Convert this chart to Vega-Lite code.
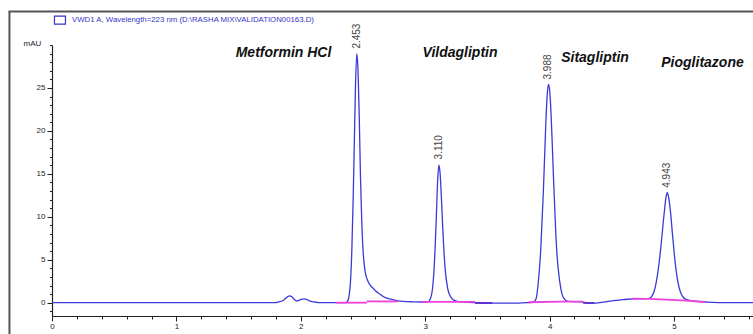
{
  "$schema": "https://vega.github.io/schema/vega-lite/v6.json",
  "width": 701,
  "height": 271,
  "autosize": "none",
  "padding": {"left": 52, "top": 45, "right": 0, "bottom": 18},
  "background": "white",
  "config": {"view": {"stroke": null}, "font": "Liberation Sans"},
  "datasets": {
    "trace": [
      {"t": 0, "v": 0}, {"t": 0.5, "v": 0}, {"t": 1.0, "v": 0}, {"t": 1.5, "v": 0}, {"t": 1.8, "v": 0},
      {"t": 1.82, "v": 0.1}, {"t": 1.85, "v": 0.2}, {"t": 1.87, "v": 0.4}, {"t": 1.89, "v": 0.65}, {"t": 1.91, "v": 0.8},
      {"t": 1.93, "v": 0.65}, {"t": 1.95, "v": 0.35}, {"t": 1.97, "v": 0.22}, {"t": 1.99, "v": 0.3}, {"t": 2.01, "v": 0.42},
      {"t": 2.03, "v": 0.45}, {"t": 2.05, "v": 0.35}, {"t": 2.07, "v": 0.22}, {"t": 2.09, "v": 0.12}, {"t": 2.12, "v": 0.05},
      {"t": 2.15, "v": 0}, {"t": 2.25, "v": 0}, {"t": 2.36, "v": 0},
      {"t": 2.38, "v": 0.3}, {"t": 2.39, "v": 1.0}, {"t": 2.40, "v": 2.6}, {"t": 2.41, "v": 6.0}, {"t": 2.42, "v": 11.5},
      {"t": 2.43, "v": 18.5}, {"t": 2.44, "v": 25.5}, {"t": 2.45, "v": 29.0}, {"t": 2.46, "v": 27.0}, {"t": 2.47, "v": 21.5},
      {"t": 2.48, "v": 14.5}, {"t": 2.49, "v": 9.5}, {"t": 2.50, "v": 6.2}, {"t": 2.51, "v": 4.4}, {"t": 2.52, "v": 3.4},
      {"t": 2.54, "v": 2.5}, {"t": 2.56, "v": 2.0}, {"t": 2.58, "v": 1.7}, {"t": 2.60, "v": 1.4}, {"t": 2.62, "v": 1.15},
      {"t": 2.64, "v": 0.95}, {"t": 2.66, "v": 0.75}, {"t": 2.68, "v": 0.6}, {"t": 2.70, "v": 0.5}, {"t": 2.74, "v": 0.35},
      {"t": 2.78, "v": 0.22}, {"t": 2.82, "v": 0.15}, {"t": 2.86, "v": 0.12}, {"t": 2.90, "v": 0.1}, {"t": 2.96, "v": 0.08},
      {"t": 3.00, "v": 0.06}, {"t": 3.02, "v": 0.1},
      {"t": 3.04, "v": 0.4}, {"t": 3.06, "v": 1.8}, {"t": 3.07, "v": 3.6}, {"t": 3.08, "v": 6.5}, {"t": 3.09, "v": 10.2},
      {"t": 3.10, "v": 14.2}, {"t": 3.11, "v": 16.0}, {"t": 3.12, "v": 15.0}, {"t": 3.13, "v": 12.3}, {"t": 3.14, "v": 9.0},
      {"t": 3.15, "v": 6.2}, {"t": 3.16, "v": 4.0}, {"t": 3.18, "v": 1.7}, {"t": 3.20, "v": 0.8}, {"t": 3.23, "v": 0.3},
      {"t": 3.27, "v": 0.12}, {"t": 3.32, "v": 0.08}, {"t": 3.40, "v": 0}, {"t": 3.45, "v": -0.05}, {"t": 3.55, "v": -0.05},
      {"t": 3.65, "v": -0.05}, {"t": 3.75, "v": -0.05}, {"t": 3.82, "v": 0}, {"t": 3.86, "v": 0.05},
      {"t": 3.87, "v": 0.08}, {"t": 3.89, "v": 0.4}, {"t": 3.91, "v": 2.5}, {"t": 3.93, "v": 6.5}, {"t": 3.95, "v": 13.0},
      {"t": 3.97, "v": 21.0}, {"t": 3.98, "v": 24.0}, {"t": 3.99, "v": 25.4}, {"t": 4.00, "v": 24.8}, {"t": 4.01, "v": 22.5},
      {"t": 4.02, "v": 19.0}, {"t": 4.03, "v": 15.0}, {"t": 4.04, "v": 11.5}, {"t": 4.05, "v": 8.0}, {"t": 4.06, "v": 5.5},
      {"t": 4.08, "v": 2.6}, {"t": 4.10, "v": 1.0}, {"t": 4.12, "v": 0.4}, {"t": 4.15, "v": 0.15}, {"t": 4.20, "v": 0.12},
      {"t": 4.26, "v": 0.1}, {"t": 4.30, "v": -0.02}, {"t": 4.36, "v": -0.05}, {"t": 4.40, "v": 0}, {"t": 4.45, "v": 0.1},
      {"t": 4.50, "v": 0.22}, {"t": 4.56, "v": 0.3}, {"t": 4.62, "v": 0.4}, {"t": 4.68, "v": 0.45}, {"t": 4.74, "v": 0.45},
      {"t": 4.78, "v": 0.48}, {"t": 4.80, "v": 0.5}, {"t": 4.82, "v": 0.7}, {"t": 4.84, "v": 1.3}, {"t": 4.86, "v": 2.6},
      {"t": 4.88, "v": 4.6}, {"t": 4.90, "v": 7.3}, {"t": 4.92, "v": 10.3}, {"t": 4.935, "v": 12.2}, {"t": 4.945, "v": 12.8},
      {"t": 4.955, "v": 12.4}, {"t": 4.97, "v": 10.8}, {"t": 4.99, "v": 7.6}, {"t": 5.01, "v": 4.6}, {"t": 5.03, "v": 2.5},
      {"t": 5.05, "v": 1.3}, {"t": 5.07, "v": 0.7}, {"t": 5.10, "v": 0.35}, {"t": 5.15, "v": 0.2}, {"t": 5.20, "v": 0.12},
      {"t": 5.25, "v": 0.08}, {"t": 5.30, "v": 0.04}, {"t": 5.37, "v": 0}, {"t": 5.50, "v": 0}, {"t": 5.64, "v": 0}
    ],
    "baselines": [
      {"seg": "A1", "kind": "pink", "t": 2.28, "v": 0.0}, {"seg": "A1", "kind": "pink", "t": 2.53, "v": 0.0},
      {"seg": "A2", "kind": "pink", "t": 2.53, "v": 0.15}, {"seg": "A2", "kind": "pink", "t": 2.78, "v": 0.15},
      {"seg": "B1", "kind": "pink", "t": 2.97, "v": 0.1}, {"seg": "B1", "kind": "pink", "t": 3.40, "v": 0.1},
      {"seg": "B2", "kind": "purple", "t": 3.40, "v": -0.03}, {"seg": "B2", "kind": "purple", "t": 3.54, "v": -0.03},
      {"seg": "C1", "kind": "pink", "t": 3.83, "v": 0.05}, {"seg": "C1", "kind": "pink", "t": 4.10, "v": 0.12}, {"seg": "C1", "kind": "pink", "t": 4.27, "v": 0.12},
      {"seg": "C2", "kind": "purple", "t": 4.27, "v": -0.03}, {"seg": "C2", "kind": "purple", "t": 4.36, "v": -0.03},
      {"seg": "D1", "kind": "pink", "t": 4.66, "v": 0.47}, {"seg": "D1", "kind": "pink", "t": 4.81, "v": 0.45}, {"seg": "D1", "kind": "pink", "t": 5.10, "v": 0.25}, {"seg": "D1", "kind": "pink", "t": 5.25, "v": 0.08}
    ],
    "peaks": [
      {"rt": 2.449, "height": 29.0, "label": "2.453"},
      {"rt": 3.110, "height": 16.1, "label": "3.110"},
      {"rt": 3.988, "height": 25.4, "label": "3.988"},
      {"rt": 4.947, "height": 12.8, "label": "4.943"}
    ],
    "names": [
      {"name": "Metformin HCl", "x": 1.861, "y": 28.6},
      {"name": "Vildagliptin", "x": 3.28, "y": 28.6},
      {"name": "Sitagliptin", "x": 4.365, "y": 28.0},
      {"name": "Pioglitazone", "x": 5.229, "y": 27.4}
    ],
    "frame": [
      {"x": -0.342, "x2": -0.342, "y": -4, "y2": 33.9},
      {"x": -0.35, "x2": 6, "y": 33.9, "y2": 33.9}
    ],
    "legend": [
      {"x": 0.064, "tx": 0.161, "y": 32.9, "text": "VWD1 A, Wavelength=223 nm (D:\\RASHA MIX\\VALIDATION00163.D)"}
    ]
  },
  "encoding": {
    "x": {
      "type": "quantitative",
      "scale": {"domain": [0, 5.635], "nice": false, "zero": false},
      "axis": {
        "title": null,
        "values": [0, 0.2, 0.4, 0.6, 0.8, 1, 1.2, 1.4, 1.6, 1.8, 2, 2.2, 2.4, 2.6, 2.8, 3, 3.2, 3.4, 3.6, 3.8, 4, 4.2, 4.4, 4.6, 4.8, 5, 5.2, 5.4, 5.6],
        "labelExpr": "abs(datum.value - round(datum.value)) < 0.01 ? toString(round(datum.value)) : ''",
        "tickSize": {"condition": {"test": "abs(datum.value - round(datum.value)) < 0.01", "value": 5}, "value": 3},
        "domainColor": "#222222", "domainWidth": 1.2,
        "tickColor": "#222222", "tickWidth": 1,
        "labelFont": "Liberation Sans", "labelFontSize": 8, "labelColor": "#222222", "labelPadding": 1,
        "grid": false, "labelFlush": false, "labelOverlap": false
      }
    },
    "y": {
      "type": "quantitative",
      "scale": {"domain": [-1.55, 30], "nice": false, "zero": false},
      "axis": {
        "title": "mAU", "titleAngle": 0, "titleX": -20, "titleY": -1.5, "titleAlign": "center", "titleBaseline": "middle",
        "titleFont": "Liberation Sans", "titleFontSize": 8, "titleFontWeight": "normal", "titleColor": "#222222",
        "values": [-1, 0, 1, 2, 3, 4, 5, 6, 7, 8, 9, 10, 11, 12, 13, 14, 15, 16, 17, 18, 19, 20, 21, 22, 23, 24, 25, 26, 27, 28, 29, 30],
        "labelExpr": "datum.value % 5 === 0 && datum.value >= 0 && datum.value < 30 ? toString(datum.value) : ''",
        "tickSize": {"condition": {"test": "datum.value % 5 === 0 && datum.value < 30", "value": 5}, "value": 2.5},
        "domainColor": "#222222", "domainWidth": 1.2,
        "tickColor": "#222222", "tickWidth": 1,
        "labelFont": "Liberation Sans", "labelFontSize": 8, "labelColor": "#222222", "labelPadding": 2,
        "grid": false, "labelOverlap": false
      }
    }
  },
  "layer": [
    {
      "data": {"name": "trace"},
      "mark": {"type": "line", "color": "#3a3ad8", "strokeWidth": 1.3, "interpolate": "monotone"},
      "encoding": {
        "x": {"field": "t"},
        "y": {"field": "v"}
      }
    },
    {
      "data": {"name": "frame"},
      "mark": {"type": "rule", "color": "#555555", "strokeWidth": 2},
      "encoding": {
        "x": {"field": "x"},
        "x2": {"field": "x2"},
        "y": {"field": "y"},
        "y2": {"field": "y2"}
      }
    },
    {
      "data": {"name": "baselines"},
      "mark": {"type": "line", "strokeWidth": 1.8},
      "encoding": {
        "x": {"field": "t"},
        "y": {"field": "v"},
        "detail": {"field": "seg"},
        "color": {"field": "kind", "type": "nominal", "scale": {"domain": ["pink", "purple"], "range": ["#f040dc", "#5a2ccc"]}, "legend": null}
      }
    },
    {
      "data": {"name": "peaks"},
      "mark": {"type": "text", "angle": 270, "align": "left", "baseline": "middle", "dx": 5, "font": "Liberation Sans", "fontSize": 10, "color": "#444444"},
      "encoding": {
        "x": {"field": "rt"},
        "y": {"field": "height"},
        "text": {"field": "label"}
      }
    },
    {
      "data": {"name": "names"},
      "mark": {"type": "text", "align": "center", "baseline": "alphabetic", "font": "Liberation Sans", "fontSize": 14, "fontStyle": "italic", "fontWeight": "bold", "color": "#111111"},
      "encoding": {
        "x": {"field": "x"},
        "y": {"field": "y"},
        "text": {"field": "name"}
      }
    },
    {
      "data": {"name": "legend"},
      "mark": {"type": "point", "shape": "M-1,-0.73H1V0.73H-1Z", "size": 121, "filled": false, "stroke": "#3535c8", "strokeWidth": 1.2, "opacity": 1},
      "encoding": {
        "x": {"field": "x"},
        "y": {"field": "y"}
      }
    },
    {
      "data": {"name": "legend"},
      "mark": {"type": "text", "align": "left", "baseline": "middle", "font": "Liberation Sans", "fontSize": 7.8, "color": "#3535c8"},
      "encoding": {
        "x": {"field": "tx"},
        "y": {"field": "y"},
        "text": {"field": "text"}
      }
    }
  ]
}
